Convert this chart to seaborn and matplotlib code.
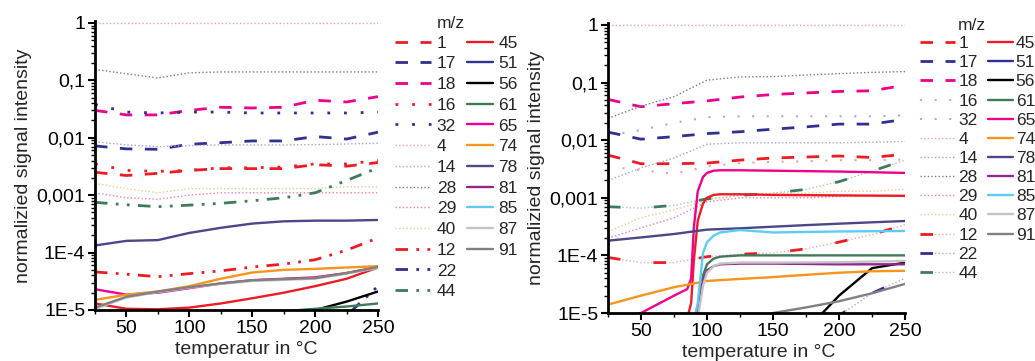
import matplotlib
matplotlib.use("Agg")
import matplotlib.pyplot as plt
import seaborn as sns
from matplotlib.legend_handler import HandlerTuple
from matplotlib.ticker import FixedLocator, FixedFormatter, LogLocator, NullFormatter, MultipleLocator

sns.set_style("ticks")
plt.rcParams['font.family'] = ['Liberation Sans', 'DejaVu Sans']

# ---------------- data ----------------
col1_mz = ['1', '17', '18', '16', '32', '4', '14', '28', '29', '40', '12', '22', '44']
col2_mz = ['45', '51', '56', '61', '65', '74', '78', '81', '85', '87', '91']

y_tick_values = [1e-5, 1e-4, 1e-3, 1e-2, 1e-1, 1]
y_tick_labels = ['1E-5', '1E-4', '0,001', '0,01', '0,1', '1']
x_tick_values = [50, 100, 150, 200, 250]

# left panel (temperatur)
left_T = [25, 50, 75, 100, 125, 150, 175, 200, 225, 250]
left_1 = [0.0025, 0.0022, 0.0024, 0.0027, 0.0029, 0.0029, 0.0029, 0.0034, 0.0032, 0.0037]
left_17 = [0.0072, 0.0064, 0.0063, 0.0077, 0.0082, 0.0088, 0.0088, 0.0105, 0.0095, 0.0125]
left_18 = [0.030, 0.025, 0.025, 0.030, 0.034, 0.033, 0.034, 0.045, 0.042, 0.052]
left_16 = [0.0035, 0.0027, 0.0026, 0.0027, 0.0030, 0.0030, 0.0031, 0.0035, 0.0035, 0.0040]
left_32 = [0.038, 0.028, 0.027, 0.028, 0.028, 0.027, 0.027, 0.027, 0.027, 0.028]
left_4 = [1, 1, 1, 1, 1, 1, 1, 1, 1, 1]
left_14 = [0.0085, 0.0075, 0.0070, 0.0073, 0.0075, 0.0075, 0.0075, 0.0076, 0.0078, 0.0080]
left_28 = [0.155, 0.13, 0.11, 0.135, 0.14, 0.14, 0.14, 0.14, 0.14, 0.14]
left_29 = [0.0011, 0.0009, 0.00085, 0.0010, 0.0011, 0.0011, 0.0011, 0.0011, 0.0011, 0.0011]
left_40 = [0.0016, 0.0013, 0.0011, 0.0013, 0.0013, 0.0013, 0.0013, 0.0013, 0.0014, 0.0014]
left_12 = [4.6e-5, 4.2e-5, 3.8e-5, 4.3e-5, 4.8e-5, 5.6e-5, 6.3e-5, 7.5e-5, 1.1e-4, 1.8e-4]
left_22 = [5e-6, 5e-6, 5e-6, 5e-6, 5e-6, 5e-6, 5e-6, 6e-6, 8e-6, 2.6e-5]
left_44 = [0.00075, 0.00068, 0.00063, 0.00067, 0.00072, 0.0008, 0.0009, 0.0011, 0.0018, 0.003]
left_45 = [1.3e-5, 1.05e-5, 1.03e-5, 1.1e-5, 1.3e-5, 1.6e-5, 2.0e-5, 2.6e-5, 3.5e-5, 5.5e-5]
left_51 = [5e-6, 5e-6, 5e-6, 5e-6, 5e-6, 5e-6, 5e-6, 5e-6, 6e-6, 8e-6]
left_56 = [5e-6, 5e-6, 5e-6, 5e-6, 5e-6, 5e-6, 7e-6, 1e-5, 1.4e-5, 2.1e-5]
left_61 = [7e-6, 7e-6, 7e-6, 7e-6, 8e-6, 9e-6, 9.5e-6, 1.05e-5, 1.15e-5, 1.3e-5]
left_65 = [2.3e-5, 1.85e-5, 2.0e-5, 2.4e-5, 2.9e-5, 3.3e-5, 3.5e-5, 3.7e-5, 4.4e-5, 5.6e-5]
left_74 = [1.5e-5, 1.85e-5, 2.1e-5, 2.6e-5, 3.5e-5, 4.5e-5, 5.0e-5, 5.2e-5, 5.5e-5, 5.8e-5]
left_78 = [1.33e-4, 1.6e-4, 1.65e-4, 2.2e-4, 2.7e-4, 3.2e-4, 3.5e-4, 3.6e-4, 3.6e-4, 3.7e-4]
left_81 = [6e-6, 6e-6, 6e-6, 6e-6, 6e-6, 6e-6, 6e-6, 6e-6, 6e-6, 6e-6]
left_85 = [5e-6, 5e-6, 5e-6, 5e-6, 5e-6, 5e-6, 5e-6, 5e-6, 5e-6, 5e-6]
left_87 = [1.05e-5, 1.65e-5, 2.05e-5, 2.45e-5, 2.85e-5, 3.2e-5, 3.35e-5, 3.5e-5, 4.3e-5, 5.4e-5]
left_91 = [1.1e-5, 1.7e-5, 2.1e-5, 2.5e-5, 2.9e-5, 3.3e-5, 3.45e-5, 3.6e-5, 4.4e-5, 5.6e-5]

# right panel (temperature)
right_T = [25, 50, 75, 100, 125, 150, 175, 200, 225, 250]
right_Ts = [25, 50, 75, 85, 88, 90, 93, 97, 100, 105, 110, 125, 150, 200, 250]
right_1 = [0.0055, 0.0039, 0.0039, 0.0040, 0.0045, 0.0049, 0.0051, 0.0053, 0.0050, 0.0057]
right_17 = [0.0138, 0.0104, 0.0115, 0.013, 0.014, 0.0155, 0.017, 0.019, 0.019, 0.023]
right_18 = [0.051, 0.038, 0.043, 0.048, 0.056, 0.062, 0.066, 0.070, 0.072, 0.090]
right_16 = [0.0035, 0.0030, 0.0026, 0.0035, 0.0040, 0.0042, 0.0043, 0.0045, 0.0045, 0.0046]
right_32 = [0.012, 0.015, 0.020, 0.025, 0.026, 0.026, 0.026, 0.026, 0.026, 0.027]
right_4 = [1, 1, 1, 1, 1, 1, 1, 1, 1, 1]
right_14 = [0.0020, 0.0033, 0.0049, 0.0085, 0.0090, 0.0090, 0.0090, 0.0090, 0.0092, 0.0095]
right_28 = [0.024, 0.039, 0.057, 0.11, 0.125, 0.127, 0.135, 0.143, 0.150, 0.155]
right_29 = [0.00020, 0.00030, 0.00045, 0.00085, 0.0010, 0.0010, 0.0010, 0.00105, 0.0011, 0.0011]
right_40 = [0.00026, 0.00045, 0.00062, 0.0009, 0.0011, 0.0012, 0.0012, 0.0013, 0.0013, 0.0014]
right_12 = [9.2e-5, 7.5e-5, 7.5e-5, 9.5e-5, 1.05e-4, 1.1e-4, 1.3e-4, 1.7e-4, 2.3e-4, 3.4e-4]
right_22 = [5e-6, 5e-6, 5e-6, 5e-6, 5e-6, 5e-6, 5e-6, 9e-6, 2.2e-5, 4e-5]
right_44 = [0.0007, 0.00066, 0.00074, 0.00096, 0.0011, 0.0012, 0.0014, 0.0019, 0.0029, 0.0045]
right_51 = [5e-6, 5e-6, 5e-6, 5e-6, 5e-6, 5e-6, 5e-6, 5e-6, 5e-6, 5e-6]
right_56 = [5e-6, 5e-6, 5e-6, 5e-6, 5e-6, 5e-6, 5e-6, 2e-5, 6e-5, 7.5e-5]
right_74 = [1.4e-5, 2.0e-5, 2.8e-5, 3.6e-5, 3.9e-5, 4.2e-5, 4.6e-5, 5.0e-5, 5.3e-5, 5.4e-5]
right_78 = [1.8e-4, 2.05e-4, 2.35e-4, 2.8e-4, 2.95e-4, 3.15e-4, 3.35e-4, 3.55e-4, 3.75e-4, 3.95e-4]
right_91 = [5e-6, 5e-6, 5e-6, 5e-6, 7e-6, 1e-5, 1.25e-5, 1.6e-5, 2.2e-5, 3.2e-5]
# step-like series on right_Ts
right_45 = [5e-6, 5e-6, 6e-6, 8e-6, 1.5e-5, 8e-5, 4e-4, 8e-4, 1e-3, 1.12e-3, 1.15e-3, 1.15e-3, 1.12e-3, 1.1e-3, 1.08e-3]
right_61 = [5e-6, 5e-6, 5e-6, 5e-6, 5e-6, 5e-6, 1.2e-5, 4.5e-5, 7e-5, 8.8e-5, 9.5e-5, 1e-4, 1e-4, 1e-4, 1e-4]
right_65 = [7e-6, 1e-5, 2e-5, 2.6e-5, 4e-5, 3e-4, 1.3e-3, 2.3e-3, 2.7e-3, 2.95e-3, 3e-3, 3e-3, 2.95e-3, 2.85e-3, 2.7e-3]
right_81 = [5e-6, 5e-6, 5e-6, 5e-6, 5e-6, 5e-6, 1e-5, 3.5e-5, 5.5e-5, 6.5e-5, 7e-5, 7.2e-5, 7.2e-5, 7e-5, 7e-5]
right_85 = [5e-6, 5e-6, 5e-6, 5e-6, 5e-6, 7e-6, 1.5e-5, 1.1e-4, 1.7e-4, 2.2e-4, 2.5e-4, 2.75e-4, 2.5e-4, 2.6e-4, 2.65e-4]
right_87 = [5e-6, 5e-6, 5e-6, 5e-6, 5e-6, 5e-6, 8e-6, 3e-5, 5e-5, 6.5e-5, 7.2e-5, 7.5e-5, 7.5e-5, 7.6e-5, 8e-5]

left_data = {
    '1': left_1, '17': left_17, '18': left_18, '16': left_16, '32': left_32, '4': left_4,
    '14': left_14, '28': left_28, '29': left_29, '40': left_40, '12': left_12, '22': left_22,
    '44': left_44, '45': left_45, '51': left_51, '56': left_56, '61': left_61, '65': left_65,
    '74': left_74, '78': left_78, '81': left_81, '85': left_85, '87': left_87, '91': left_91,
}
right_data = {
    '1': (right_T, right_1), '17': (right_T, right_17), '18': (right_T, right_18),
    '16': (right_T, right_16), '32': (right_T, right_32), '4': (right_T, right_4),
    '14': (right_T, right_14), '28': (right_T, right_28), '29': (right_T, right_29),
    '40': (right_T, right_40), '12': (right_T, right_12), '22': (right_T, right_22),
    '44': (right_T, right_44), '45': (right_Ts, right_45), '51': (right_T, right_51),
    '56': (right_T, right_56), '61': (right_Ts, right_61), '65': (right_Ts, right_65),
    '74': (right_T, right_74), '78': (right_T, right_78), '81': (right_Ts, right_81),
    '85': (right_Ts, right_85), '87': (right_Ts, right_87), '91': (right_T, right_91),
}

# ---------------- styles ----------------
RED, NAVY, MAGENTA = '#ed1c24', '#2e3192', '#ec008c'
GREEN = '#3f7a5a'
styles_left = {
    '1': ('dash', RED), '17': ('dash', NAVY), '18': ('dash', MAGENTA),
    '16': ('spdot', RED), '32': ('spdot', NAVY),
    '4': ('fdot', '#f4a0a0'), '14': ('fdot', '#a3a3dc'), '28': ('fdot', '#7a7a7a'),
    '29': ('fdot', '#ef7fb8'), '40': ('fdot', '#fbc68a'),
    '12': ('dd', RED), '22': ('dd', NAVY), '44': ('dd', GREEN),
    '45': ('solid', RED), '51': ('solid', NAVY), '56': ('solid', '#000000'),
    '61': ('solid', GREEN), '65': ('solid', MAGENTA), '74': ('solid', '#f7941d'),
    '78': ('solid', '#4b4789'), '81': ('solid', '#92278f'), '85': ('solid', '#5ecbf5'),
    '87': ('solid', '#c4c4c4'), '91': ('solid', '#808080'),
}
styles_right = dict(styles_left)
styles_right.update({
    '16': ('spdot_l', '#f4a0a0'), '32': ('spdot_l', '#a9a9e0'),
    '12': ('dashlight', RED, '#f5a8a8'), '22': ('dashlight', NAVY, '#aaaadf'),
    '44': ('dashlight', GREEN, '#a9c9b2'),
})

LS = {
    'dash': dict(lw=2.0, linestyle=(0, (4.5, 4.5))),
    'spdot': dict(lw=2.0, linestyle=(0, (1, 5))),
    'spdot_l': dict(lw=1.5, linestyle=(0, (1, 6))),
    'fdot': dict(lw=1.0, linestyle=(0, (1, 1.6))),
    'dd': dict(lw=2.0, linestyle=(0, (4.5, 3, 1, 3, 1, 3))),
    'solid': dict(lw=1.7, linestyle='-'),
}


def draw(ax, x, y, st):
    kind = st[0]
    if kind == 'dashlight':
        sns.lineplot(x=x, y=y, ax=ax, color=st[2], lw=1.0, linestyle=(0, (1, 1.6)),
                     errorbar=None, legend=False)
        h1 = ax.lines[-1]
        sns.lineplot(x=x, y=y, ax=ax, color=st[1], lw=2.0, linestyle=(0, (4.5, 12)),
                     errorbar=None, legend=False)
        h2 = ax.lines[-1]
        return (h1, h2)
    sns.lineplot(x=x, y=y, ax=ax, color=st[1], errorbar=None, legend=False, **LS[kind])
    return ax.lines[-1]


def style_axes(ax, xlabel, xlabel_x):
    ax.set_xlim(25, 250)
    ax.set_ylim(1e-5, 1.08)
    ax.xaxis.set_major_locator(FixedLocator(x_tick_values))
    ax.xaxis.set_minor_locator(MultipleLocator(25))
    ax.yaxis.set_major_locator(FixedLocator(y_tick_values))
    ax.yaxis.set_major_formatter(FixedFormatter(y_tick_labels))
    ax.yaxis.set_minor_locator(LogLocator(base=10, subs=range(2, 10)))
    ax.yaxis.set_minor_formatter(NullFormatter())
    ax.tick_params(axis='both', which='major', direction='out', length=5, width=1.5,
                   labelsize=14, pad=2, color='black', labelcolor='black')
    ax.tick_params(axis='both', which='minor', direction='out', length=3, width=1.0,
                   color='black')
    for s in ['top', 'right']:
        ax.spines[s].set_visible(False)
    for s in ['left', 'bottom']:
        ax.spines[s].set_linewidth(2)
        ax.spines[s].set_color('black')
    ax.set_xlabel(xlabel, fontsize=14, labelpad=3)
    ax.xaxis.label.set_x(xlabel_x)
    ax.set_ylabel('normalizied signal intensity', fontsize=14, labelpad=3)


fig = plt.figure(figsize=(10.35, 3.61), dpi=100)
axL = fig.add_axes([95 / 1035, 1 - 310 / 361, 283 / 1035, 289 / 361])
axR = fig.add_axes([608 / 1035, 1 - 313 / 361, 297 / 1035, 290 / 361])
axL.set_yscale('log')
axR.set_yscale('log')

handlesL, handlesR = {}, {}
for mz in col1_mz + col2_mz:
    handlesL[mz] = draw(axL, left_T, left_data[mz], styles_left[mz])
    xT, yv = right_data[mz]
    handlesR[mz] = draw(axR, xT, yv, styles_right[mz])

style_axes(axL, 'temperatur in °C', 0.534)
style_axes(axR, 'temperature in °C', 0.508)


def add_legends(handles, x1, x2, ytop, hl1, hl2, pad1, pad2, spacing, title_xy):
    common = dict(loc='upper left', bbox_transform=fig.transFigure, frameon=False,
                  fontsize=12.5, title_fontsize=12.5, borderpad=0, borderaxespad=0,
                  labelspacing=spacing, title=' ',
                  handler_map={tuple: HandlerTuple(ndivide=1, pad=0)})
    fig.legend([handles[m] for m in col1_mz], col1_mz,
               bbox_to_anchor=(x1 / 1035, 1 - ytop / 361),
               handlelength=hl1, handletextpad=pad1, **common)
    fig.legend([handles[m] for m in col2_mz], col2_mz,
               bbox_to_anchor=(x2 / 1035, 1 - ytop / 361),
               handlelength=hl2, handletextpad=pad2, **common)
    fig.text(title_xy[0] / 1035, 1 - title_xy[1] / 361, 'm/z', fontsize=12.5,
             ha='left', va='center')


add_legends(handlesL, 395, 467, 15, 2.1, 1.5, 0.3, 0.3, 0.32, (437, 24))
add_legends(handlesR, 920, 988, 17, 2.0, 1.45, 0.2, 0.15, 0.23, (958, 25))

fig.savefig('out.png', dpi=100)
